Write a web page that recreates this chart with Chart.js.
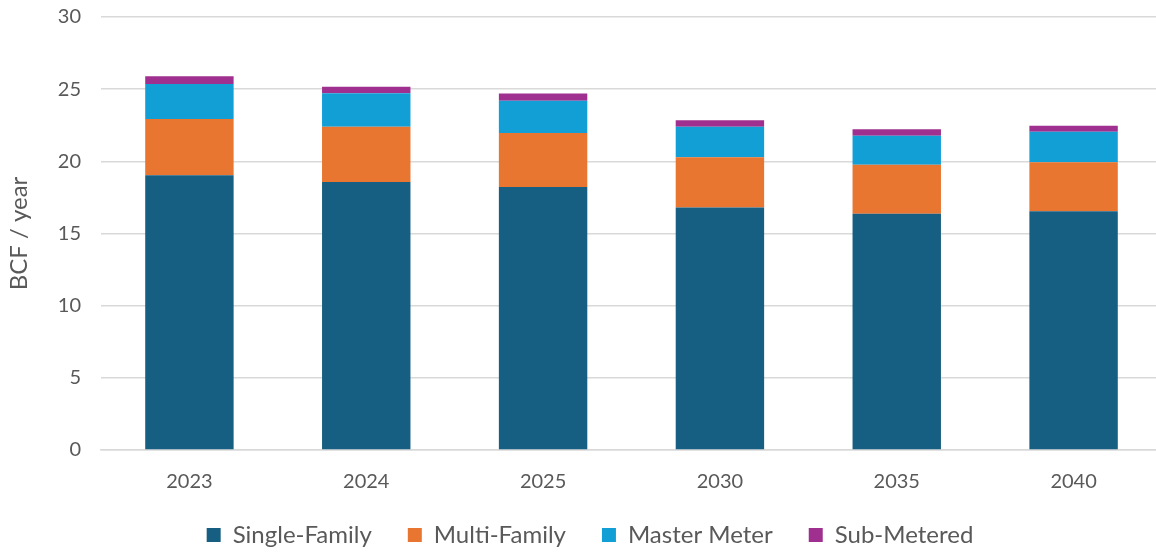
<!DOCTYPE html>
<html>
<head>
<meta charset="utf-8">
<script src="https://cdn.jsdelivr.net/npm/chart.js@4/dist/chart.umd.min.js"></script>
<style>
  html, body { margin: 0; padding: 0; background: #fff; overflow: hidden; }
  #wrap { width: 1162px; height: 552px; }
</style>
</head>
<body>
<div id="wrap"><canvas id="myChart" width="1162" height="552"></canvas></div>
<script>
// categories and series (BCF / year)
const years = ['2023', '2024', '2025', '2030', '2035', '2040'];
const singleFamily = [19.03, 18.56, 18.22, 16.80, 16.37, 16.55];
const multiFamily = [3.91, 3.84, 3.75, 3.48, 3.40, 3.38];
const masterMeter = [2.41, 2.32, 2.22, 2.12, 2.01, 2.12];
const subMetered = [0.55, 0.44, 0.51, 0.45, 0.44, 0.42];
const yTicks = [0, 5, 10, 15, 20, 25, 30];

const font = "Lato, 'Open Sans', sans-serif";

// legend keeps its wide item spacing but takes less room from the plot
const legendHeight = {
  id: 'legendHeight',
  beforeLayout(chart) {
    const lg = chart.legend;
    if (lg && !lg._shortFit) {
      const fit = lg.fit;
      lg.fit = function () {
        fit.call(this);
        this.height = 38;
      };
      lg._shortFit = true;
    }
  },
  afterLayout(chart) {
    // move legend box so its row sits under the year labels
    const lg = chart.legend;
    lg.top = 487;
    lg.bottom = chart.height;
    lg.height = lg.bottom - lg.top;
    lg.left += 9;
    lg.right += 9;
  }
};

const data = {
  labels: years,
  datasets: [
    { label: 'Single-Family', data: singleFamily, backgroundColor: '#175f82' },
    { label: 'Multi-Family', data: multiFamily, backgroundColor: '#e87530' },
    { label: 'Master Meter', data: masterMeter, backgroundColor: '#129fd6' },
    { label: 'Sub-Metered', data: subMetered, backgroundColor: '#a0308f' }
  ]
};

const config = {
  type: 'bar',
  data: data,
  plugins: [legendHeight],
  options: {
    responsive: false,
    animation: false,
    datasets: {
      bar: { categoryPercentage: 1, barPercentage: 0.5 }
    },
    layout: { padding: { top: 17, right: 0, bottom: 0, left: 0 } },
    plugins: {
      legend: {
        position: 'bottom',
        labels: {
          boxWidth: 14,
          boxHeight: 14,
          padding: 36,
          color: '#595959',
          font: { family: font, size: 24 }
        }
      },
      tooltip: { enabled: false }
    },
    scales: {
      x: {
        stacked: true,
        grid: { display: false, drawTicks: false },
        border: { color: '#d9d9d9', width: 1.5 },
        ticks: { color: '#595959', padding: 20, font: { family: font, size: 20 } }
      },
      y: {
        stacked: true,
        min: 0,
        max: 30,
        afterBuildTicks: (axis) => { axis.ticks = yTicks.map(v => ({ value: v })); },
        grid: { color: '#d9d9d9', lineWidth: 1.5, drawTicks: true, tickLength: 20, tickColor: 'rgba(0,0,0,0)' },
        border: { display: false },
        ticks: { color: '#595959', padding: 0, font: { family: font, size: 20 } },
        title: {
          display: true,
          text: 'BCF / year',
          color: '#595959',
          padding: { top: 5, bottom: 24 },
          font: { family: font, size: 24 }
        }
      }
    }
  }
};

const myChart = new Chart(document.getElementById('myChart'), config);
</script>
</body>
</html>
